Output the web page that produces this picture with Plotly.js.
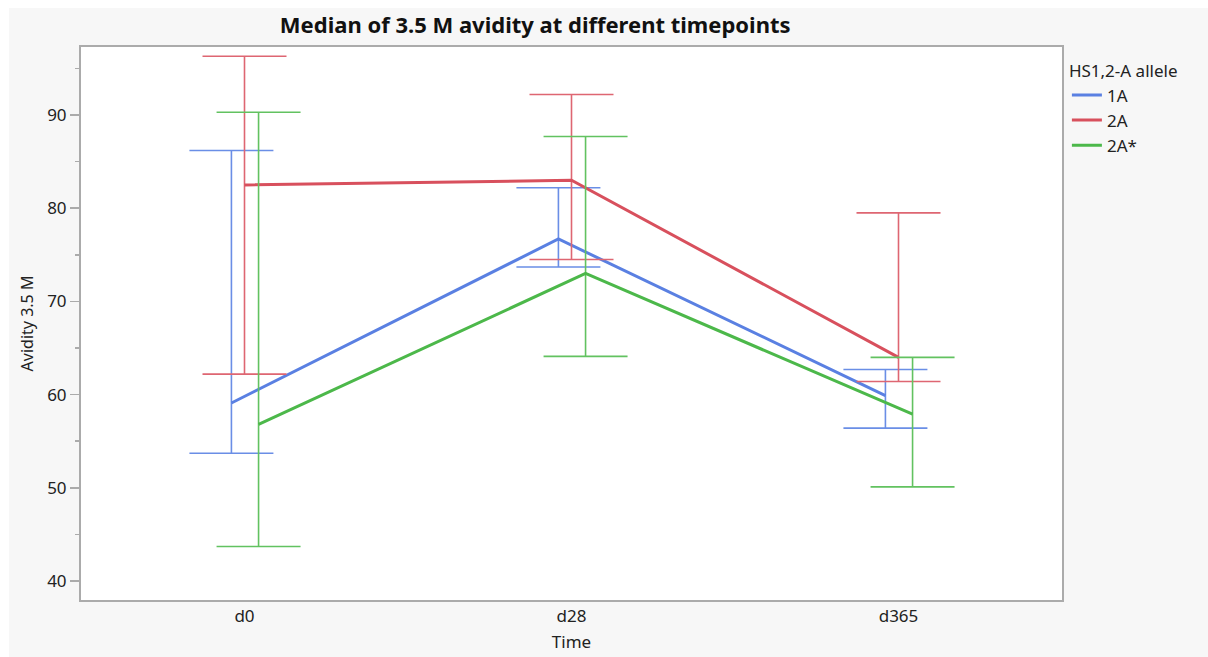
<!DOCTYPE html>
<html>
<head>
<meta charset="utf-8">
<script src="https://cdn.plot.ly/plotly-3.0.1.min.js"></script>
<style>
  html, body { margin: 0; padding: 0; background: #ffffff; }
  #chart { position: absolute; left: 9px; top: 8px; width: 1199px; height: 649px; }
</style>
</head>
<body>
<div id="chart"></div>
<script>
// Categories (time points)
const timepoints = ["d0", "d28", "d365"];
// Series names
const seriesNames = ["1A", "2A", "2A*"];
// Median values
const median1A = [59.1, 76.7, 59.9];
const median2A = [82.5, 83.0, 64.0];
const median2Astar = [56.8, 73.0, 57.9];
// Upper whisker values
const upper1A = [86.2, 82.2, 62.7];
const upper2A = [96.3, 92.2, 79.5];
const upper2Astar = [90.3, 87.7, 64.0];
// Lower whisker values
const lower1A = [53.7, 73.7, 56.4];
const lower2A = [62.2, 74.5, 61.4];
const lower2Astar = [43.7, 64.1, 50.1];

const medians = [median1A, median2A, median2Astar];
const uppers = [upper1A, upper2A, upper2Astar];
const lowers = [lower1A, lower2A, lower2Astar];

const lineColors = ["#5a80e2", "#d8505d", "#4cb84a"];
const barColors = ["#6a8ee6", "#de6672", "#62c260"];
const dodge = [-0.04, 0, 0.043];

const FONT = "'Noto Sans', 'Open Sans', sans-serif";
const TXT = "#222222";

const traces = seriesNames.map((name, s) => ({
  type: "scatter",
  mode: "lines",
  name: name,
  x: timepoints.map((_, i) => i + dodge[s]),
  y: medians[s],
  line: { color: lineColors[s], width: 3 },
  error_y: {
    type: "data",
    symmetric: false,
    array: uppers[s].map((u, i) => u - medians[s][i]),
    arrayminus: medians[s].map((m, i) => m - lowers[s][i]),
    color: barColors[s],
    thickness: 1.6,
    width: 42
  },
  hoverinfo: "x+y+name"
}));

const layout = {
  width: 1199,
  height: 649,
  paper_bgcolor: "#f7f7f7",
  plot_bgcolor: "#ffffff",
  margin: { l: 72, r: 146, t: 39, b: 57 },
  font: { family: FONT, size: 17, color: TXT },
  title: {
    text: "<b>Median of 3.5 M avidity at different timepoints</b>",
    font: { family: FONT, size: 22, color: "#111111" },
    x: 0.463,
    xref: "paper",
    xanchor: "center",
    y: 0.973,
    yref: "container",
    yanchor: "middle"
  },
  xaxis: {
    range: [-0.5, 2.5],
    tickvals: [0, 1, 2],
    ticktext: timepoints,
    showgrid: false,
    zeroline: false,
    showline: true,
    linecolor: "#ababab",
    linewidth: 2,
    mirror: true,
    ticks: "",
    tickfont: { family: FONT, size: 17, color: TXT },
    title: { text: "Time", font: { family: FONT, size: 17, color: TXT }, standoff: 10 }
  },
  yaxis: {
    range: [37.96, 97.3],
    tickvals: [40, 50, 60, 70, 80, 90],
    showgrid: false,
    zeroline: false,
    showline: true,
    linecolor: "#ababab",
    linewidth: 2,
    mirror: true,
    ticks: "outside",
    ticklen: 9,
    tickwidth: 1.5,
    tickcolor: "#ababab",
    tickfont: { family: FONT, size: 17, color: TXT },
    minor: { dtick: 5, tick0: 45, ticks: "outside", ticklen: 4, tickwidth: 1.5, tickcolor: "#ababab", showgrid: false },
    title: { text: "Avidity 3.5 M", font: { family: FONT, size: 16, color: TXT }, standoff: 10 }
  },
  showlegend: true,
  legend: {
    title: { text: "HS1,2-A allele", font: { family: FONT, size: 17, color: TXT } },
    x: 1.005,
    xanchor: "left",
    y: 0.985,
    yanchor: "top",
    bgcolor: "rgba(0,0,0,0)",
    font: { family: FONT, size: 17, color: TXT },
    itemwidth: 30,
    tracegroupgap: 0
  }
};

Plotly.newPlot("chart", traces, layout, { displayModeBar: false, staticPlot: true });
</script>
</body>
</html>
